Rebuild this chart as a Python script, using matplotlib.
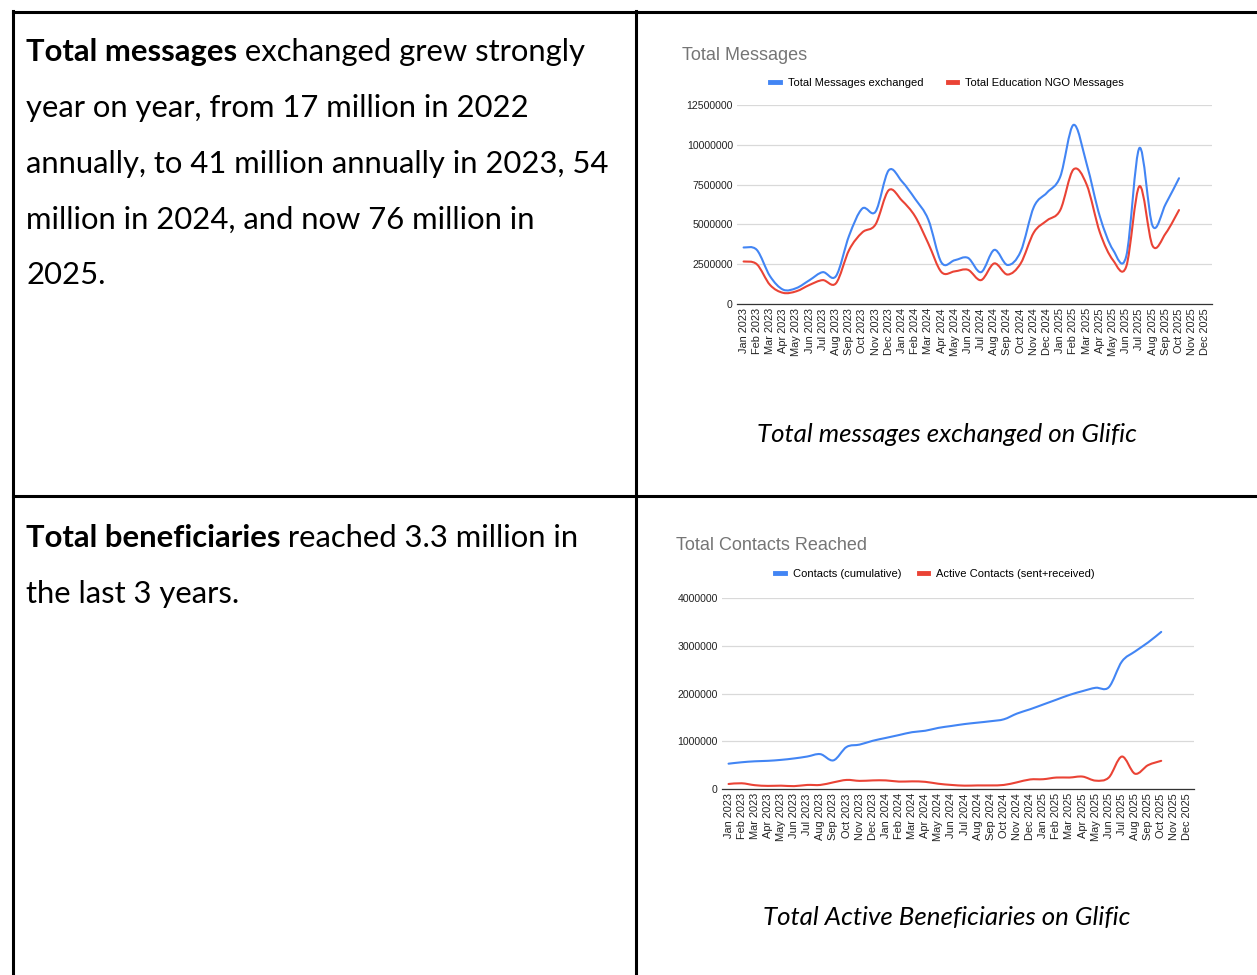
import matplotlib
matplotlib.use("Agg")
import matplotlib.pyplot as plt
from matplotlib.path import Path
from matplotlib.patches import PathPatch
from matplotlib.lines import Line2D
import numpy as np

# ---- dados ----
meses = [f"{m} {a}" for a in (2023, 2024, 2025)
         for m in ["Jan", "Feb", "Mar", "Apr", "May", "Jun",
                   "Jul", "Aug", "Sep", "Oct", "Nov", "Dec"]]

# Total Messages (em milhoes), Jan 2023 - Oct 2025
total_msgs = [3.55, 3.4, 1.75, 0.9, 1.0, 1.5, 2.0, 1.75, 4.3, 6.0, 5.8, 8.4,
              7.7, 6.6, 5.3, 2.6, 2.75, 2.9, 2.0, 3.4, 2.45, 3.3, 6.1, 7.0,
              8.0, 11.25, 8.8, 5.5, 3.4, 3.0, 9.8, 4.9, 6.3, 7.9]
edu_msgs = [2.67, 2.5, 1.2, 0.7, 0.8, 1.2, 1.5, 1.3, 3.4, 4.5, 5.0, 7.15,
            6.5, 5.5, 3.8, 2.0, 2.05, 2.15, 1.5, 2.55, 1.85, 2.55, 4.5, 5.25,
            5.9, 8.45, 7.5, 4.5, 2.75, 2.35, 7.4, 3.65, 4.45, 5.9]

# Total Contacts (em milhoes)
contatos = [0.53, 0.56, 0.58, 0.59, 0.61, 0.64, 0.68, 0.73, 0.60, 0.88, 0.93, 1.01,
            1.07, 1.13, 1.19, 1.22, 1.28, 1.32, 1.36, 1.39, 1.42, 1.46, 1.58, 1.67,
            1.77, 1.87, 1.97, 2.05, 2.12, 2.13, 2.67, 2.88, 3.07, 3.29]
ativos = [0.105, 0.12, 0.08, 0.065, 0.07, 0.06, 0.085, 0.085, 0.14, 0.19, 0.17, 0.18,
          0.18, 0.155, 0.16, 0.15, 0.11, 0.085, 0.07, 0.075, 0.075, 0.085, 0.14, 0.2,
          0.205, 0.24, 0.24, 0.26, 0.175, 0.24, 0.68, 0.32, 0.5, 0.59]

AZUL = "#4285F4"
VERMELHO = "#EA4335"
W, H = 1257, 975


def caixa(x0, y0, x1, y1):
    # pixels (origem no topo) -> fracao da figura
    return [x0 / W, (H - y1) / H, (x1 - x0) / W, (y1 - y0) / H]


def linha_suave(ax, ys, cor):
    # curva suave (catmull-rom -> bezier) como no Google Sheets
    ys = np.asarray(ys) * 1e6
    xs = np.arange(len(ys))
    pts = np.column_stack([xs, ys])
    verts = [pts[0]]
    codes = [Path.MOVETO]
    n = len(pts)
    for i in range(n - 1):
        p0 = pts[max(i - 1, 0)]
        p1 = pts[i]
        p2 = pts[i + 1]
        p3 = pts[min(i + 2, n - 1)]
        c1 = p1 + (p2 - p0) / 6.0
        c2 = p2 - (p3 - p1) / 6.0
        verts += [c1, c2, p2]
        codes += [Path.CURVE4] * 3
    ax.add_patch(PathPatch(Path(verts, codes), fill=False, edgecolor=cor,
                           lw=1.5, capstyle="round", joinstyle="round"))


def grafico(box, s1, s2, ymax, passo, titulo, tpos, nomes, legy, legx, espaco):
    ax = fig.add_axes(caixa(*box))
    linha_suave(ax, s1, AZUL)
    linha_suave(ax, s2, VERMELHO)
    ax.set_xlim(-0.5, len(meses) - 0.5)
    ax.set_ylim(0, ymax)
    ax.set_xticks(range(len(meses)))
    ax.set_xticklabels(meses, rotation=90, fontsize=7.9, color="#222222",
                       family="Liberation Sans")
    yt = np.arange(0, ymax + 1, passo)
    ax.set_yticks(yt)
    ax.set_yticklabels([f"{int(v)}" for v in yt], fontsize=7.6, color="#222222",
                       family="Liberation Sans")
    ax.tick_params(length=0, pad=3)
    ax.grid(axis="y", color="#d9d9d9", lw=0.9)
    ax.set_axisbelow(True)
    for s in ["top", "right", "left"]:
        ax.spines[s].set_visible(False)
    ax.spines["bottom"].set_color("#333333")
    ax.spines["bottom"].set_linewidth(0.9)
    ax.spines["bottom"].set_zorder(3)
    fig.text(tpos[0] / W, 1 - tpos[1] / H, titulo, fontsize=13, color="#757575",
             family="Liberation Sans", va="center", ha="left")
    handles = [Line2D([], [], color=AZUL, lw=3.5), Line2D([], [], color=VERMELHO, lw=3.5)]
    fig.legend(handles, nomes, loc="center", bbox_to_anchor=(legx / W, 1 - legy / H),
               ncol=2, frameon=False, handlelength=0.85, columnspacing=espaco,
               handletextpad=0.7, prop={"family": "Liberation Sans", "size": 8})
    return ax


fig = plt.figure(figsize=(W / 100, H / 100), dpi=100)

# camada de fundo em pixels para as bordas e textos
base = fig.add_axes([0, 0, 1, 1])
base.set_xlim(0, W)
base.set_ylim(H, 0)
base.axis("off")

for xs, ys in [((12.5, 12.5), (11, H)), ((636, 636), (11, H)),
               ((12.5, W), (12, 12)), ((12.5, W), (496, 496))]:
    base.plot(xs, ys, color="black", lw=2.2, solid_capstyle="projecting")

fonte = "Lato"
tam = 22.3


def texto_misto(x, y, negrito, resto):
    t = base.text(x, y, negrito, fontsize=tam, fontweight="bold", family=fonte,
                  va="baseline", ha="left")
    base.annotate(" " + resto, xy=(1, 0), xycoords=t, va="bottom", ha="left",
                  fontsize=tam, family=fonte)


texto_misto(26, 61, "Total messages", "exchanged grew strongly")
linhas1 = ["year on year, from 17 million in 2022",
           "annually, to 41 million annually in 2023, 54",
           "million in 2024, and now 76 million in",
           "2025."]
for i, l in enumerate(linhas1):
    base.text(26, 117 + 55.8 * i, l, fontsize=tam, family=fonte, va="baseline")

texto_misto(26, 547, "Total beneficiaries", "reached 3.3 million in")
base.text(26, 603, "the last 3 years.", fontsize=tam, family=fonte, va="baseline")

base.text(947, 435, "Total messages exchanged on Glific", fontsize=18.6,
          style="italic", family="Lato", ha="center", va="center")
base.text(947, 917, "Total Active Beneficiaries on Glific", fontsize=18.6,
          style="italic", family="Lato", ha="center", va="center")

grafico((737, 105, 1212, 304), total_msgs, edu_msgs, 12500000, 2500000,
        "Total Messages", (682, 56),
        ["Total Messages exchanged", "Total Education NGO Messages"], 83, 947, 2.2)
grafico((722, 598, 1194, 789), contatos, ativos, 4000000, 1000000,
        "Total Contacts Reached", (676, 545),
        ["Contacts (cumulative)", "Active Contacts (sent+received)"], 574, 935, 1.6)

fig.savefig("out.png", dpi=100)
